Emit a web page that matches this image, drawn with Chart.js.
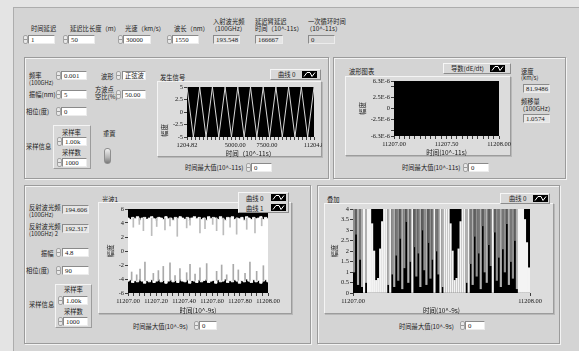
<!DOCTYPE html>
<html>
<head>
<meta charset="utf-8">
<script src="https://cdn.jsdelivr.net/npm/chart.js@4.4.1/dist/chart.umd.min.js"></script>
<style>
  body { margin: 0; width: 579px; height: 351px; overflow: hidden; position: relative; background: #e4e4e4; font-family: "Noto Sans CJK SC", sans-serif; }
  #wrap { position: absolute; left: 0; top: 0; width: 579px; height: 351px; }
  .main { position: absolute; left: 13px; top: 7px; width: 570px; height: 350px; background: #d4d4d4; border-left: 1px solid #adadad; border-top: 1px solid #adadad; }
  .panel { position: absolute; border: 1px solid #9b9b9b; box-shadow: 1px 1px 0 #f3f3f3, inset 1px 1px 0 #f3f3f3; }
  .t { position: absolute; font-size: 6.3px; line-height: 7px; color: #202020; white-space: nowrap; }
  .box { position: absolute; height: 9px; box-sizing: border-box; background: #fff; border: 1px solid #8a8a8a; border-right-color: #ececec; border-bottom-color: #ececec; font: 6.8px/7px "Liberation Serif", serif; padding-left: 2px; color: #202020; white-space: nowrap; overflow: hidden; }
  .ind { background: #e6e6e6; }
  .sp { position: absolute; width: 5px; height: 9px; box-sizing: border-box; border: 1px solid #a4a4a4; border-radius: 2px; background: linear-gradient(#e8e8e8 40%, #9a9a9a 50%, #e8e8e8 60%); }
  .frame { position: absolute; box-sizing: border-box; background: #dcdcdc; border: 1px solid; border-color: #f4f4f4 #9c9c9c #9c9c9c #f4f4f4; box-shadow: 1px 1px 0 #b8b8b8; }
  .leg { position: absolute; box-sizing: border-box; background: #d8d8d8; border: 1px solid; border-color: #f6f6f6 #8c8c8c #8c8c8c #f6f6f6; }
  .leg svg { position: absolute; }
  .clu { position: absolute; box-sizing: border-box; border: 1px solid; border-color: #f4f4f4 #9c9c9c #9c9c9c #f4f4f4; background: #d8d8d8; }
  .sw { position: absolute; left: 104px; top: 148px; width: 7px; height: 16px; box-sizing: border-box; border: 1px solid #8e8e8e; border-radius: 3px; background: linear-gradient(#f0f0f0, #b4b4b4 60%, #7a7a7a); }
  canvas { position: absolute; }
</style>
</head>
<body>
<div id="wrap">
<div class="main"></div>

<!-- top row -->
<div class="t" style="left:31px;top:25px">时间延迟</div>
<div class="sp" style="left:23px;top:35px"></div><div class="box" style="left:28px;top:35px;width:27px">1</div>
<div class="t" style="left:70px;top:25px">延迟比长度（m）</div>
<div class="sp" style="left:63px;top:35px"></div><div class="box" style="left:68px;top:35px;width:27px">50</div>
<div class="t" style="left:125px;top:25px">光速（km/s）</div>
<div class="sp" style="left:118px;top:35px"></div><div class="box" style="left:123px;top:35px;width:28px">30000</div>
<div class="t" style="left:174px;top:25px">波长（nm）</div>
<div class="sp" style="left:167px;top:35px"></div><div class="box" style="left:172px;top:35px;width:27px">1550</div>
<div class="t" style="left:213px;top:17.5px">入射波光频</div><div class="t" style="left:211px;top:25px">（100GHz）</div>
<div class="box ind" style="left:213px;top:35px;width:27px">193.548</div>
<div class="t" style="left:255px;top:17.5px">延迟臂延迟</div><div class="t" style="left:255px;top:25px">时间（10^-11s）</div>
<div class="box ind" style="left:255px;top:35px;width:28px">166667</div>
<div class="t" style="left:308px;top:17.5px">一次循环时间</div><div class="t" style="left:306px;top:25px">（10^-11s）</div>
<div class="box ind" style="left:308px;top:35px;width:27px;background:#d9d9d9">0</div>

<!-- middle left -->
<div class="panel" style="left:24px;top:57px;width:303px;height:120px"></div>
<div class="t" style="left:29px;top:71.5px">频率</div><div class="t" style="left:29px;top:78.5px;font-size:5.8px">(100GHz)</div>
<div class="sp" style="left:56px;top:71px"></div><div class="box" style="left:61px;top:71px;width:26px">0.001</div>
<div class="t" style="left:29px;top:90.5px">振幅(nm)</div>
<div class="sp" style="left:56px;top:90px"></div><div class="box" style="left:61px;top:90px;width:26px">5</div>
<div class="t" style="left:26px;top:108px">相位(度)</div>
<div class="sp" style="left:56px;top:107px"></div><div class="box" style="left:61px;top:107px;width:26px">0</div>
<div class="t" style="left:26px;top:142.5px">采样信息</div>
<div class="clu" style="left:53px;top:125px;width:38px;height:44px"></div>
<div class="t" style="left:62px;top:128.5px">采样率</div>
<div class="sp" style="left:57px;top:137px"></div><div class="box" style="left:62px;top:137px;width:25px">1.00k</div>
<div class="t" style="left:62px;top:149px">采样数</div>
<div class="sp" style="left:57px;top:158px"></div><div class="box" style="left:62px;top:158px;width:25px">1000</div>
<div class="t" style="left:101px;top:72.5px">波形</div>
<div class="sp" style="left:116px;top:71px"></div><div class="box" style="left:122px;top:71px;width:24px;font-family:'Noto Sans CJK SC';font-size:6.3px">正弦波</div>
<div class="t" style="left:95px;top:86px">方波点</div><div class="t" style="left:95px;top:93px">空比(%)</div>
<div class="sp" style="left:116px;top:90px"></div><div class="box" style="left:122px;top:90px;width:24px">50.00</div>
<div class="t" style="left:103px;top:129.5px">重置</div>
<div class="sw"></div>
<div class="frame" style="left:157px;top:81px;width:165px;height:76px"></div>
<div class="t" style="left:160px;top:73.5px">发生信号</div>
<div class="leg" style="left:270px;top:69px;width:51px;height:11px"><span class="t" style="left:7px;top:1px">曲线 0</span><svg style="left:31px;top:1px" width="15" height="7"><rect width="15" height="7" fill="#000"/><polyline points="2,5.5 5,1.5 8,1.5 10,5.5 13,1.5" fill="none" stroke="#fff"/></svg></div>
<canvas id="faSheng" width="164" height="76" style="left:158px;top:81px"></canvas>
<div class="t" style="left:185px;top:163.5px">时间最大值(10^-11s)</div>
<div class="sp" style="left:246px;top:163px"></div><div class="box" style="left:251px;top:163px;width:21px">0</div>

<!-- middle right -->
<div class="panel" style="left:333px;top:57px;width:231px;height:120px"></div>
<div class="t" style="left:349px;top:67.5px">波形图表</div>
<div class="leg" style="left:443px;top:63px;width:68px;height:11px"><span class="t" style="left:7px;top:1px">导数(dE/dt)</span><svg style="left:46px;top:1px" width="15" height="7"><rect width="15" height="7" fill="#000"/><polyline points="2,5.5 5,1.5 8,1.5 10,5.5 13,1.5" fill="none" stroke="#fff"/></svg></div>
<div class="frame" style="left:345px;top:76px;width:166px;height:80px"></div>
<canvas id="boXing" width="166" height="80" style="left:345px;top:76px"></canvas>
<div class="t" style="left:521px;top:67.5px">速度</div><div class="t" style="left:521px;top:74px;font-size:5.8px">(km/s)</div>
<div class="box ind" style="left:523px;top:84px;width:27px">81.9486</div>
<div class="t" style="left:521px;top:97.5px">频移量</div><div class="t" style="left:519px;top:104.5px">（100GHz）</div>
<div class="box ind" style="left:523px;top:114px;width:27px">1.0574</div>
<div class="t" style="left:402px;top:163.5px">时间最大值(10^-11s)</div>
<div class="sp" style="left:463px;top:163px"></div><div class="box" style="left:468px;top:163px;width:21px">0</div>

<!-- bottom left -->
<div class="panel" style="left:24px;top:185px;width:285px;height:157px"></div>
<div class="t" style="left:29px;top:203.5px">反射波光频</div><div class="t" style="left:29px;top:210.5px;font-size:5.8px">(100GHz)</div>
<div class="box ind" style="left:62px;top:205px;width:27px">194.606</div>
<div class="t" style="left:29px;top:222.5px">反射波光频</div><div class="t" style="left:29px;top:229.5px;font-size:5.8px">(100GHz) 2</div>
<div class="box ind" style="left:62px;top:224px;width:27px">192.317</div>
<div class="t" style="left:41px;top:249.5px">振幅</div>
<div class="sp" style="left:56px;top:248px"></div><div class="box" style="left:62px;top:248px;width:27px">4.8</div>
<div class="t" style="left:26px;top:266.5px">相位(度)</div>
<div class="sp" style="left:56px;top:266px"></div><div class="box" style="left:62px;top:266px;width:27px">90</div>
<div class="t" style="left:29px;top:300.5px">采样信息</div>
<div class="clu" style="left:55px;top:284px;width:37px;height:44px"></div>
<div class="t" style="left:64px;top:286px">采样率</div>
<div class="sp" style="left:58px;top:296px"></div><div class="box" style="left:63px;top:296px;width:25px">1.00k</div>
<div class="t" style="left:64px;top:307.5px">采样数</div>
<div class="sp" style="left:58px;top:317px"></div><div class="box" style="left:63px;top:317px;width:25px">1000</div>
<div class="t" style="left:102px;top:195.5px">光波1</div>
<div class="frame" style="left:98px;top:202px;width:194px;height:112px"></div>
<canvas id="guangBo" width="194" height="112" style="left:98px;top:202px"></canvas>
<div class="leg" style="left:238px;top:192px;width:51px;height:21px"><span class="t" style="left:7px;top:1.5px">曲线 0</span><svg style="left:32px;top:1px" width="15" height="7"><rect width="15" height="7" fill="#000"/><polyline points="2,5.5 5,1.5 8,1.5 10,5.5 13,1.5" fill="none" stroke="#fff"/></svg><span class="t" style="left:7px;top:11.5px">曲线 1</span><svg style="left:32px;top:11px" width="15" height="7"><rect width="15" height="7" fill="#000"/><polyline points="2,5.5 5,1.5 8,1.5 10,5.5 13,1.5" fill="none" stroke="#fff"/></svg></div>
<div class="t" style="left:133px;top:322.5px">时间最大值(10^-9s)</div>
<div class="sp" style="left:194px;top:321px"></div><div class="box" style="left:199px;top:321px;width:18px">0</div>

<!-- bottom right -->
<div class="panel" style="left:317px;top:185px;width:241px;height:157px"></div>
<div class="t" style="left:327px;top:195.5px">叠加</div>
<div class="frame" style="left:324px;top:203px;width:230px;height:111px"></div>
<canvas id="dieJia" width="230" height="111" style="left:324px;top:203px"></canvas>
<div class="leg" style="left:500px;top:193px;width:50px;height:11px"><span class="t" style="left:8px;top:1px">曲线 0</span><svg style="left:32px;top:1px" width="15" height="7"><rect width="15" height="7" fill="#000"/><polyline points="2,5.5 5,1.5 8,1.5 10,5.5 13,1.5" fill="none" stroke="#fff"/></svg></div>
<div class="t" style="left:399px;top:322.5px">时间最大值(10^-9s)</div>
<div class="sp" style="left:460px;top:321px"></div><div class="box" style="left:465px;top:321px;width:20px">0</div>
</div>

<script>
// 发生信号 (正弦波, 5 nm, 10 cycles)
const faShengT = [1204.82, 1704.82, 2204.82, 2704.82, 3204.82, 3704.82, 4204.82, 4704.82, 5204.82, 5704.82,
  6204.82, 6704.82, 7204.82, 7704.82, 8204.82, 8704.82, 9204.82, 9704.82, 10204.82, 10704.82, 11204.82];
const faShengY = [5, -5, 5, -5, 5, -5, 5, -5, 5, -5, 5, -5, 5, -5, 5, -5, 5, -5, 5, -5, 5];
const faShengXTicks = [1204.82, 5000, 7500, 11204.82];
const faShengXLabels = ['1204.82', '5000.00', '7500.00', '11204.8'];
const faShengYTicks = [-5, -2.5, 0, 2.5, 5];
const faShengYLabels = ['-5', '-2.5', '0', '2.5', '5'];

// 波形图表 - 导数(dE/dt), nothing drawn
const daoShuT = [];
const daoShuY = [];
const boXingXTicks = [11207, 11207.5, 11208];
const boXingXLabels = ['11207.00', '11207.50', '11208.00'];
const boXingYTicks = [-6.3e-6, -5e-6, -2.5e-6, 0, 2.5e-6, 5e-6, 6.3e-6];
const boXingYLabels = ['-6.3E-6', '', '-2.5E-6', '0', '2.5E-6', '', '6.3E-6'];

// 光波1 - band edges of 曲线 0 and spikes of 曲线 1
const guangBoT0 = 11207;
const guangBoDt = 1 / 59;
const guangBo0Hi = [4.7, 4.5, 4.8, 4.6, 4.9, 4.4, 4.7, 4.8, 4.5, 4.7,
  4.9, 4.6, 4.4, 4.8, 4.7, 4.5, 4.9, 4.6, 4.7, 4.4,
  4.8, 4.6, 4.9, 4.7, 4.5, 4.8, 4.4, 4.7, 4.9, 4.6,
  4.8, 4.5, 4.7, 4.4, 4.9, 4.6, 4.8, 4.7, 4.5, 4.9,
  4.6, 4.4, 4.8, 4.7, 4.9, 4.5, 4.7, 4.6, 4.8, 4.4,
  4.9, 4.7, 4.5, 4.8, 4.6, 4.7, 4.9, 4.5, 4.8, 4.6];
const guangBo0Lo = [-4.3, -4.1, -4.5, -4.2, -4.4, -4.0, -4.3, -4.6, -4.2, -4.4,
  -4.1, -4.5, -4.3, -4.0, -4.4, -4.2, -4.6, -4.3, -4.1, -4.4,
  -4.2, -4.5, -4.0, -4.3, -4.4, -4.1, -4.6, -4.2, -4.3, -4.5,
  -4.1, -4.4, -4.2, -4.0, -4.5, -4.3, -4.2, -4.6, -4.1, -4.4,
  -4.3, -4.0, -4.5, -4.2, -4.4, -4.1, -4.3, -4.6, -4.2, -4.4,
  -4.0, -4.3, -4.5, -4.1, -4.4, -4.2, -4.6, -4.3, -4.1, -4.4];
const guangBo1TopEdge = 4.7;
const guangBo1TopT = [11207.038, 11207.081, 11207.110, 11207.169, 11207.205, 11207.264, 11207.300, 11207.352, 11207.419, 11207.443,
  11207.514, 11207.550, 11207.605, 11207.633, 11207.681, 11207.729, 11207.776, 11207.848, 11207.907, 11207.955];
const guangBo1TopY = [3.4, 3.8, 2.9, 2.2, 3.5, 3.0, 3.6, 2.1, 3.3, 3.7,
  2.6, 3.2, 3.8, 2.9, 2.3, 3.4, 2.4, 3.1, 2.6, 3.6];
const guangBo1BotEdge = -4.2;
const guangBo1BotT = [11207.026, 11207.062, 11207.086, 11207.121, 11207.181, 11207.217, 11207.252, 11207.300, 11207.336, 11207.371,
  11207.419, 11207.443, 11207.479, 11207.514, 11207.562, 11207.633, 11207.669, 11207.705, 11207.752, 11207.788,
  11207.836, 11207.871, 11207.919, 11207.967];
const guangBo1BotY = [-3.0, -3.4, -2.6, -1.6, -3.2, -2.8, -2.2, -1.7, -3.5, -2.5,
  -3.1, -1.9, -3.3, -2.4, -1.8, -2.9, -2.0, -3.4, -1.9, -2.7,
  -3.2, -1.6, -2.9, -2.1];
const guangBoXTicks = [11207, 11207.2, 11207.4, 11207.6, 11207.8, 11208];
const guangBoXLabels = ['11207.00', '11207.20', '11207.40', '11207.60', '11207.80', '11208.00'];
const guangBoYTicks = [-6, -4, -2, 0, 2, 4, 6];
const guangBoYLabels = ['-6', '-4', '-2', '0', '2', '4', '6'];

// 叠加 - per column low / high of the trace
const dieJiaT0 = 11207 + 1 / 176;
const dieJiaDt = 1 / 88;
const dieJiaLo = [1.0, 2.8, 0.4, 1.6, 0.3, 0, 0.5, 0, 0, 0,
  0, 0, 0, 0, 0, 0, 0, 0.4, 0, 0.9,
  0.3, 1.8, 0.6, 2.6, 0.2, 1.2, 3.4, 0.5, 1.5, 0,
  2.2, 0.8, 1.9, 0.3, 3.0, 1.1, 0.4, 2.4, 0.7, 1.6,
  0, 2.0, 0.9, 0, 0.3, 0, 0, 0, 0, 0,
  0, 0, 0, 0, 0, 0, 0.5, 0, 1.4, 0.4,
  2.7, 0.8, 1.9, 0.2, 3.2, 1.0, 0.5, 2.3, 1.3, 0,
  2.9, 0.6, 1.7, 0.3, 2.1, 1.0, 3.3, 0.4, 1.5, 0.7,
  2.5, 0.2, 0, 0, 0, 0, 0, 0];
const dieJiaHi = [4, 4, 4, 4, 4, 4, 4, 4, 4, 3.3,
  2.0, 0.6, 0.7, 2.1, 3.4, 4, 4, 4, 4, 4,
  4, 4, 4, 4, 4, 4, 4, 4, 4, 4,
  4, 4, 4, 4, 4, 4, 4, 4, 4, 4,
  4, 4, 4, 4, 4, 4, 4, 4, 3.3, 2.0,
  0.6, 0.7, 2.1, 3.4, 4, 4, 4, 4, 4, 4,
  4, 4, 4, 4, 4, 4, 4, 4, 4, 4,
  4, 4, 4, 4, 4, 4, 4, 4, 4, 4,
  4, 4, 4, 4, 4, 3.5, 2.4, 1.2];
const dieJiaXTicks = [11207, 11208];
const dieJiaXLabels = ['11207.00', '11208.00'];
const dieJiaYTicks = [0, 0.5, 1, 1.5, 2, 2.5, 3, 3.5, 4];
const dieJiaYLabels = ['0', '0.5', '1', '1.5', '2', '2.5', '3', '3.5', '4'];

const tickFont = { family: 'Liberation Serif', size: 6.4 };
const titleFont = { family: 'Noto Sans CJK SC', size: 6.5 };

// black plot background like the LabVIEW graph
const plotBg = {
  id: 'plotBg',
  beforeDraw(chart) {
    const a = chart.chartArea, c = chart.ctx;
    c.save();
    c.fillStyle = '#000';
    c.fillRect(a.left, a.top, a.right - a.left, a.bottom - a.top);
    c.restore();
  }
};

function axis(pos, min, max, ticks, labels, minor, size, title, titlePad, titleAlign) {
  return {
    type: 'linear', position: pos, min: min, max: max, offset: false,
    afterBuildTicks: function(s) {
      const v = ticks.slice();
      if (minor) {
        for (let x = minor[0]; x <= max + minor[1] / 1000; x += minor[1]) {
          if (!ticks.some(m => Math.abs(m - x) < minor[1] / 4)) v.push(x);
        }
      }
      v.sort((p, q) => p - q);
      s.ticks = v.map(x => ({ value: x }));
    },
    afterFit: function(s) {
      if (pos === 'left') s.width = size; else s.height = size;
      s.paddingLeft = 0; s.paddingRight = 0; s.paddingTop = 0; s.paddingBottom = 0;
    },
    grid: { drawOnChartArea: false, offset: false, tickLength: 3, tickColor: '#3c3c3c', tickWidth: 1 },
    border: { display: false },
    ticks: {
      autoSkip: false, maxRotation: 0, minRotation: 0, padding: 1, color: '#141414', font: tickFont,
      callback: function(value) {
        const k = ticks.findIndex(m => Math.abs(m - value) < Math.abs(max - min) / 1e6);
        return k < 0 ? '' : labels[k];
      }
    },
    title: { display: true, text: title, color: '#141414', font: titleFont, align: titleAlign || 'center',
      padding: { top: titlePad || 0, bottom: 0 } }
  };
}

const common = {
  responsive: false, animation: false, events: [],
  plugins: { legend: { display: false }, tooltip: { enabled: false } }
};

new Chart(document.getElementById('faSheng'), {
  type: 'line',
  data: {
    datasets: [{
      label: '曲线 0',
      data: faShengT.map((t, i) => ({ x: t, y: faShengY[i] })),
      borderColor: '#d8d8d8', borderWidth: 1, pointRadius: 0, tension: 0
    }]
  },
  options: Object.assign({}, common, {
    layout: { padding: { top: 6, right: 8, left: 0, bottom: 0 } },
    scales: {
      x: axis('bottom', 1204.82, 11204.82, faShengXTicks, faShengXLabels, [1562.5, 312.5], 20, '时间（10^-11s）'),
      y: axis('left', -5, 5, faShengYTicks, faShengYLabels, null, 29, '幅度', 2.5, 'start')
    }
  }),
  plugins: [plotBg]
});

new Chart(document.getElementById('boXing'), {
  type: 'line',
  data: {
    datasets: [{
      label: '导数(dE/dt)',
      data: daoShuT.map((t, i) => ({ x: t, y: daoShuY[i] })),
      borderColor: '#d8d8d8', borderWidth: 1, pointRadius: 0
    }]
  },
  options: Object.assign({}, common, {
    layout: { padding: { top: 5, right: 12, left: 0, bottom: 0 } },
    scales: {
      x: axis('bottom', 11207, 11208, boXingXTicks, boXingXLabels, [11207.05, 0.05], 20, '时间(10^-11s)'),
      y: axis('left', -6.3e-6, 6.3e-6, boXingYTicks, boXingYLabels, null, 49, '幅度', 14)
    }
  }),
  plugins: [plotBg]
});

new Chart(document.getElementById('guangBo'), {
  type: 'bar',
  data: {
    datasets: [
      {
        type: 'line', label: '曲线 0',
        data: guangBo0Hi.map((v, i) => ({ x: guangBoT0 + i * guangBoDt, y: v })),
        stepped: 'middle', borderColor: '#ffffff', borderWidth: 1, pointRadius: 0,
        fill: '+1', backgroundColor: '#ffffff', order: 3
      },
      {
        type: 'line', label: '曲线 0',
        data: guangBo0Lo.map((v, i) => ({ x: guangBoT0 + i * guangBoDt, y: v })),
        stepped: 'middle', borderColor: '#ffffff', borderWidth: 1, pointRadius: 0,
        fill: false, order: 4
      },
      {
        label: '曲线 1',
        data: guangBo1TopT.map((t, i) => ({ x: t, y: [guangBo1TopY[i], guangBo1TopEdge] })),
        backgroundColor: '#bcbcbc', barThickness: 1, grouped: false, order: 1
      },
      {
        label: '曲线 1',
        data: guangBo1BotT.map((t, i) => ({ x: t, y: [guangBo1BotEdge, guangBo1BotY[i]] })),
        backgroundColor: '#aaaaaa', barThickness: 1, grouped: false, order: 2
      }
    ]
  },
  options: Object.assign({}, common, {
    layout: { padding: { top: 7, right: 24, left: 0, bottom: 0 } },
    scales: {
      x: axis('bottom', 11207, 11208, guangBoXTicks, guangBoXLabels, [11207.04, 0.04], 21, '时间(10^-9s)'),
      y: axis('left', -6, 6, guangBoYTicks, guangBoYLabels, null, 30, '幅度', 9)
    }
  }),
  plugins: [plotBg]
});

function dieJiaTone(lo) {
  if (lo === 0) return '#f4f4f4';
  if (lo < 0.6) return '#b0b0b0';
  if (lo < 1.3) return '#909090';
  if (lo < 2.2) return '#767676';
  return '#5e5e5e';
}

new Chart(document.getElementById('dieJia'), {
  type: 'bar',
  data: {
    datasets: [{
      label: '曲线 0',
      data: dieJiaLo.map((lo, i) => ({ x: dieJiaT0 + i * dieJiaDt, y: [lo, dieJiaHi[i]] })),
      backgroundColor: ctx => dieJiaTone(dieJiaLo[ctx.dataIndex]),
      barThickness: 1.5, grouped: false
    }]
  },
  options: Object.assign({}, common, {
    layout: { padding: { top: 6, right: 24, left: 0, bottom: 0 } },
    scales: {
      x: axis('bottom', 11207, 11208, dieJiaXTicks, dieJiaXLabels, null, 21, '时间(10^-9s)'),
      y: axis('left', 0, 4, dieJiaYTicks, dieJiaYLabels, null, 29, '幅度', 7)
    }
  }),
  plugins: [plotBg]
});
</script>
</body>
</html>
